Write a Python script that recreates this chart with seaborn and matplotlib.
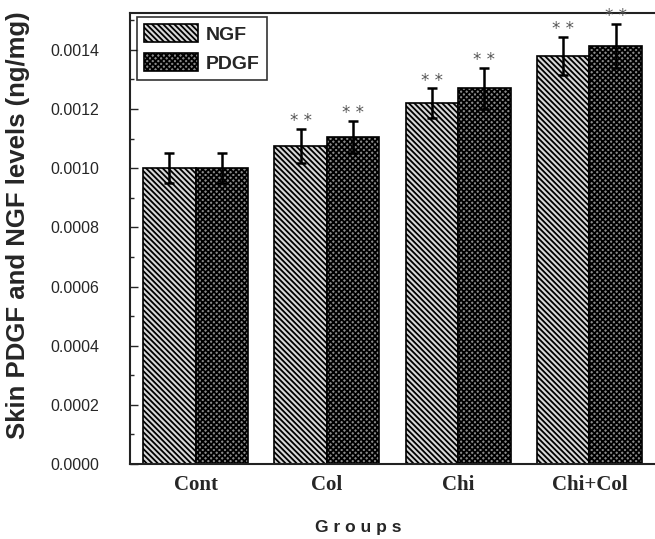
import numpy as np
import pandas as pd
import matplotlib
matplotlib.use("Agg")
import matplotlib.pyplot as plt
from matplotlib.ticker import MultipleLocator, FormatStrFormatter
import seaborn as sns

# --------------------------------------------
# Data
# --------------------------------------------
groups = ["Cont", "Col", "Chi", "Chi+Col"]
ngf_mean = [0.00100, 0.001075, 0.00122, 0.00138]
pdgf_mean = [0.00100, 0.001105, 0.00127, 0.001414]
ngf_err = [0.00005, 0.000057, 0.00005, 0.000064]
pdgf_err = [0.00005, 0.000055, 0.00007, 0.000074]
signif = ["", "**", "**", "**"]

df = pd.DataFrame({
    "Group": groups * 2,
    "Factor": ["NGF"] * 4 + ["PDGF"] * 4,
    "Level": ngf_mean + pdgf_mean,
    "Err": ngf_err + pdgf_err,
    "Sig": signif * 2,
})

# --------------------------------------------
# Settings
# --------------------------------------------
sns.set_theme(style="ticks")
plt.rcParams["hatch.linewidth"] = 1.3
plt.rcParams["font.family"] = ["Liberation Sans", "DejaVu Sans"]

fig, ax = plt.subplots(figsize=(6.55, 5.39), dpi=100)
fig.subplots_adjust(left=0.1985, right=1.0, top=0.976, bottom=0.139)

colors = {"NGF": "#d8d8d8", "PDGF": "#8a8a8a"}
hatches = {"NGF": "\\\\\\\\\\\\", "PDGF": "xxxxxx"}

sns.barplot(
    data=df, x="Group", y="Level", hue="Factor",
    palette=colors, edgecolor="black", linewidth=1.2,
    width=0.8, gap=0, errorbar=None, ax=ax,
)

for container, name in zip(ax.containers, ["NGF", "PDGF"]):
    sub = df[df["Factor"] == name]
    for bar, err, sig in zip(container, sub["Err"], sub["Sig"]):
        bar.set_hatch(hatches[name])
        cx = bar.get_x() + bar.get_width() / 2
        top = bar.get_height()
        ax.errorbar(cx, top, yerr=err, fmt="none", ecolor="black",
                    elinewidth=1.8, capsize=3.5, capthick=1.8, zorder=5)
        if sig:
            ax.text(cx, top + err - 0.000004, "* *", ha="center", va="bottom",
                    fontsize=12, color="#555555", family="DejaVu Sans",
                    clip_on=False, zorder=6)

# Axes styling
ax.set_xlim(-0.5, 3.5)
ax.set_ylim(0, 0.001525)
ax.yaxis.set_major_locator(MultipleLocator(0.0002))
ax.yaxis.set_minor_locator(MultipleLocator(0.0001))
ax.yaxis.set_major_formatter(FormatStrFormatter("%.4f"))
ax.tick_params(axis="y", direction="in", length=6, width=1, labelsize=11.5,
               pad=22)
ax.tick_params(axis="y", which="minor", direction="in", length=3, width=1)
ax.tick_params(axis="x", direction="in", length=0, labelsize=15, pad=8)
for lbl in ax.get_xticklabels():
    lbl.set_family(["Liberation Serif", "DejaVu Serif"])
    lbl.set_fontweight("bold")
for side in ["top", "left", "bottom"]:
    ax.spines[side].set_visible(True)
    ax.spines[side].set_linewidth(1.5)
    ax.spines[side].set_color("#222222")
ax.spines["right"].set_visible(False)

ax.set_ylabel("Skin PDGF and NGF levels (ng/mg)", fontsize=18.5,
              fontweight="bold")
ax.yaxis.set_label_coords(-0.19, 0.53)
ax.set_xlabel("G r o u p s", fontsize=12.5, fontweight="bold")
ax.xaxis.set_label_coords(0.435, -0.124)

leg = ax.legend(loc="upper left", bbox_to_anchor=(0.013, 0.99),
                borderaxespad=0, frameon=True, fancybox=False,
                edgecolor="black", handlelength=2.8, handleheight=1.0,
                labelspacing=0.5, handletextpad=0.4, borderpad=0.35,
                prop={"weight": "bold", "size": 14})
leg.get_frame().set_linewidth(1.2)
for handle, name in zip(leg.legend_handles, ["NGF", "PDGF"]):
    handle.set_hatch(hatches[name])
    handle.set_edgecolor("black")

plt.savefig("out.png", dpi=100)
